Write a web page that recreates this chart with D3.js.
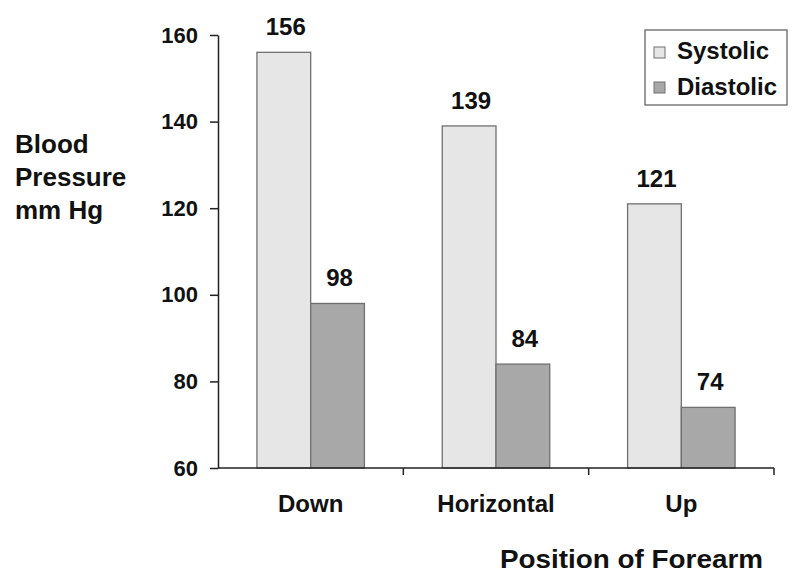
<!DOCTYPE html>
<html>
<head>
<meta charset="utf-8">
<script src="https://cdn.jsdelivr.net/npm/d3@7"></script>
<style>
  body { margin: 0; background: #fff; }
  text { font-family: "Liberation Sans", Arial, sans-serif; font-weight: bold; fill: #111; }
</style>
</head>
<body>
<div id="chart"></div>
<script>
// categories and series
const positions = ["Down", "Horizontal", "Up"];
const seriesNames = ["Systolic", "Diastolic"];
const systolic = [156, 139, 121];
const diastolic = [98, 84, 74];
const yTicks = [60, 80, 100, 120, 140, 160];

const colors = { Systolic: "#e6e6e6", Diastolic: "#a8a8a8" };

const width = 800, height = 585;
const margin = { top: 35, right: 26, bottom: 117, left: 218 };

const svg = d3.select("#chart")
  .append("svg")
  .attr("width", width)
  .attr("height", height);

const plotW = width - margin.left - margin.right;
const plotH = height - margin.top - margin.bottom;

const g = svg.append("g")
  .attr("transform", `translate(${margin.left},${margin.top})`);

// scales
const xScale = d3.scaleBand()
  .domain(positions)
  .range([0, plotW])
  .padding(0);

const inset = xScale.bandwidth() * 0.21;
const x1 = d3.scaleBand()
  .domain(seriesNames)
  .range([inset, xScale.bandwidth() - inset]);

const yScale = d3.scaleLinear()
  .domain([60, 160])
  .range([plotH, 0]);

const data = positions.map((p, i) => ({
  position: p,
  values: [
    { series: "Systolic", value: systolic[i] },
    { series: "Diastolic", value: diastolic[i] }
  ]
}));

// bars
const groups = g.selectAll(".grp")
  .data(data)
  .enter()
  .append("g")
  .attr("class", "grp")
  .attr("transform", d => `translate(${xScale(d.position)},0)`);

groups.selectAll("rect")
  .data(d => d.values)
  .enter()
  .append("rect")
  .attr("x", d => x1(d.series))
  .attr("y", d => yScale(d.value))
  .attr("width", x1.bandwidth())
  .attr("height", d => plotH - yScale(d.value))
  .style("fill", d => colors[d.series])
  .style("stroke", "#707070")
  .style("stroke-width", 1.3);

// value labels
groups.selectAll("text.val")
  .data(d => d.values)
  .enter()
  .append("text")
  .attr("class", "val")
  .attr("x", d => x1(d.series) + x1.bandwidth() / 2 + 2)
  .attr("y", d => yScale(d.value) - 17)
  .attr("text-anchor", "middle")
  .attr("font-size", 24)
  .text(d => d.value);

// y axis
const yAxis = d3.axisLeft(yScale)
  .tickValues(yTicks)
  .tickSize(8)
  .tickSizeOuter(0)
  .tickPadding(12);

const yG = g.append("g").call(yAxis);
yG.selectAll("path, line").attr("stroke", "#222").attr("stroke-width", 1.5);
yG.selectAll("text")
  .attr("font-size", 22)
  .attr("font-family", "Liberation Sans, Arial, sans-serif")
  .attr("font-weight", "bold")
  .attr("fill", "#111");

// x axis: ticks at the category boundaries
const xG = g.append("g")
  .attr("transform", `translate(0,${plotH})`);
xG.append("line")
  .attr("x1", 0).attr("x2", plotW)
  .attr("stroke", "#222").attr("stroke-width", 1.5);
xG.selectAll("line.tk")
  .data(positions)
  .enter()
  .append("line")
  .attr("class", "tk")
  .attr("x1", d => xScale(d) + xScale.bandwidth())
  .attr("x2", d => xScale(d) + xScale.bandwidth())
  .attr("y1", 0).attr("y2", 7)
  .attr("stroke", "#222").attr("stroke-width", 1.5);
xG.selectAll("text")
  .data(positions)
  .enter()
  .append("text")
  .attr("x", d => xScale(d) + xScale.bandwidth() / 2)
  .attr("y", 44)
  .attr("text-anchor", "middle")
  .attr("font-size", 24)
  .text(d => d);

// axis titles
const yTitle = svg.append("text")
  .attr("x", 15)
  .attr("y", 153)
  .attr("font-size", 26);
["Blood", "Pressure", "mm Hg"].forEach((t, i) => {
  yTitle.append("tspan").attr("x", 15).attr("dy", i === 0 ? 0 : 33).text(t);
});

svg.append("text")
  .attr("x", 500)
  .attr("y", 568)
  .attr("font-size", 26)
  .attr("textLength", 263)
  .attr("lengthAdjust", "spacingAndGlyphs")
  .text("Position of Forearm");

// legend
const legend = svg.append("g").attr("transform", "translate(645,30)");
legend.append("rect")
  .attr("width", 142).attr("height", 75)
  .style("fill", "#fff")
  .style("stroke", "#666")
  .style("stroke-width", 1.3);
seriesNames.forEach((s, i) => {
  legend.append("rect")
    .attr("x", 9).attr("y", 17 + i * 35)
    .attr("width", 11).attr("height", 11)
    .style("fill", colors[s])
    .style("stroke", "#707070");
  legend.append("text")
    .attr("x", 32).attr("y", 29 + i * 36)
    .attr("font-size", 24)
    .text(s);
});
</script>
</body>
</html>
